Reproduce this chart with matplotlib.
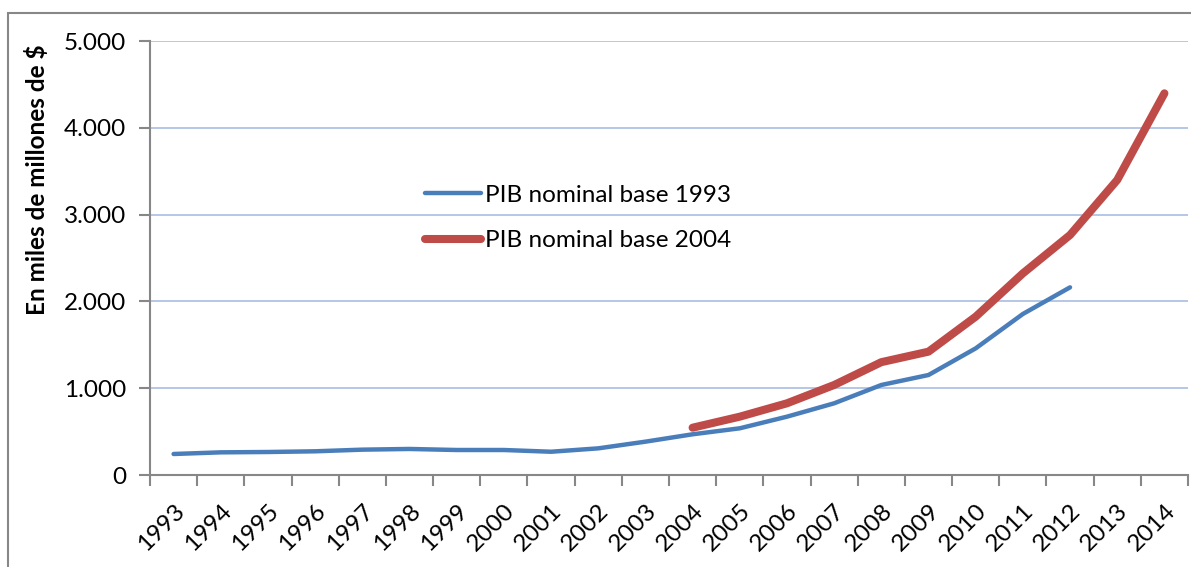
import matplotlib.pyplot as plt
import matplotlib.patches as patches
import numpy as np

plt.rcParams['font.family'] = ['Lato', 'DejaVu Sans']

years = [str(y) for y in range(1993, 2015)]
# PIB nominal base 1993 (1993-2012)
pib_1993 = [242, 261, 265, 273, 292, 300, 288, 288, 268, 307, 384, 469,
            538, 672, 826, 1037, 1152, 1459, 1855, 2162]
# PIB nominal base 2004 (2004-2014)
pib_2004 = [545, 672, 826, 1037, 1300, 1421, 1824, 2323, 2765, 3399, 4397]
y_ticks = [0, 1000, 2000, 3000, 4000, 5000]

blue = '#4A7EBB'
red = '#BE4B48'
gris = '#878787'
fs = 17.5

fig = plt.figure(figsize=(11.91, 5.67), dpi=100)
ax = fig.add_axes([150/1191, 1-475/567, 1038/1191, 434/567])

# marco del gráfico
fig.patches.append(patches.Rectangle((7.5/1191, -0.1), 1.2, 1.1-12.5/567,
                                     transform=fig.transFigure, fill=False,
                                     edgecolor=gris, linewidth=1.5))

x1 = np.arange(len(pib_1993))
x2 = np.arange(11, 11 + len(pib_2004))
ax.plot(x1, pib_1993, color=blue, linewidth=3.2, solid_capstyle='round',
        solid_joinstyle='round', label='PIB nominal base 1993')
ax.plot(x2, pib_2004, color=red, linewidth=5.8, solid_capstyle='round',
        solid_joinstyle='round', label='PIB nominal base 2004')

ax.set_xlim(-0.5, len(years) - 0.5)
ax.set_ylim(0, 5000)
ax.set_yticks(y_ticks)
ax.set_yticklabels([f'{v:,}'.replace(',', '.') for v in y_ticks], fontsize=fs)
ax.set_xticks(range(len(years)))
ax.set_xticklabels(years, fontsize=fs, rotation=45, ha='right',
                   rotation_mode='anchor')
ax.set_xticks(np.arange(-0.5, len(years), 1), minor=True)
ax.tick_params(axis='x', which='major', length=0, pad=18)
ax.tick_params(axis='x', which='minor', length=8, color=gris, width=1.5)
ax.tick_params(axis='y', length=8, color=gris, width=1.5, pad=9)

for s in ['top', 'right']:
    ax.spines[s].set_visible(False)
for s in ['left', 'bottom']:
    ax.spines[s].set_color(gris)
    ax.spines[s].set_linewidth(1.5)

for v in y_ticks[1:]:
    ax.axhline(v, color='#AFC3E3', linewidth=1.3, zorder=0)

ax.set_ylabel('En miles de millones de $', fontsize=17.5, fontweight='bold')
ax.yaxis.set_label_coords(-0.097, 0.68)

ax.legend(loc='center left', bbox_to_anchor=(0.265, 0.592), frameon=False,
          fontsize=fs, handlelength=2.3, handletextpad=0.15,
          labelspacing=1.0, borderpad=0, borderaxespad=0)

fig.savefig('out.png', dpi=100)
